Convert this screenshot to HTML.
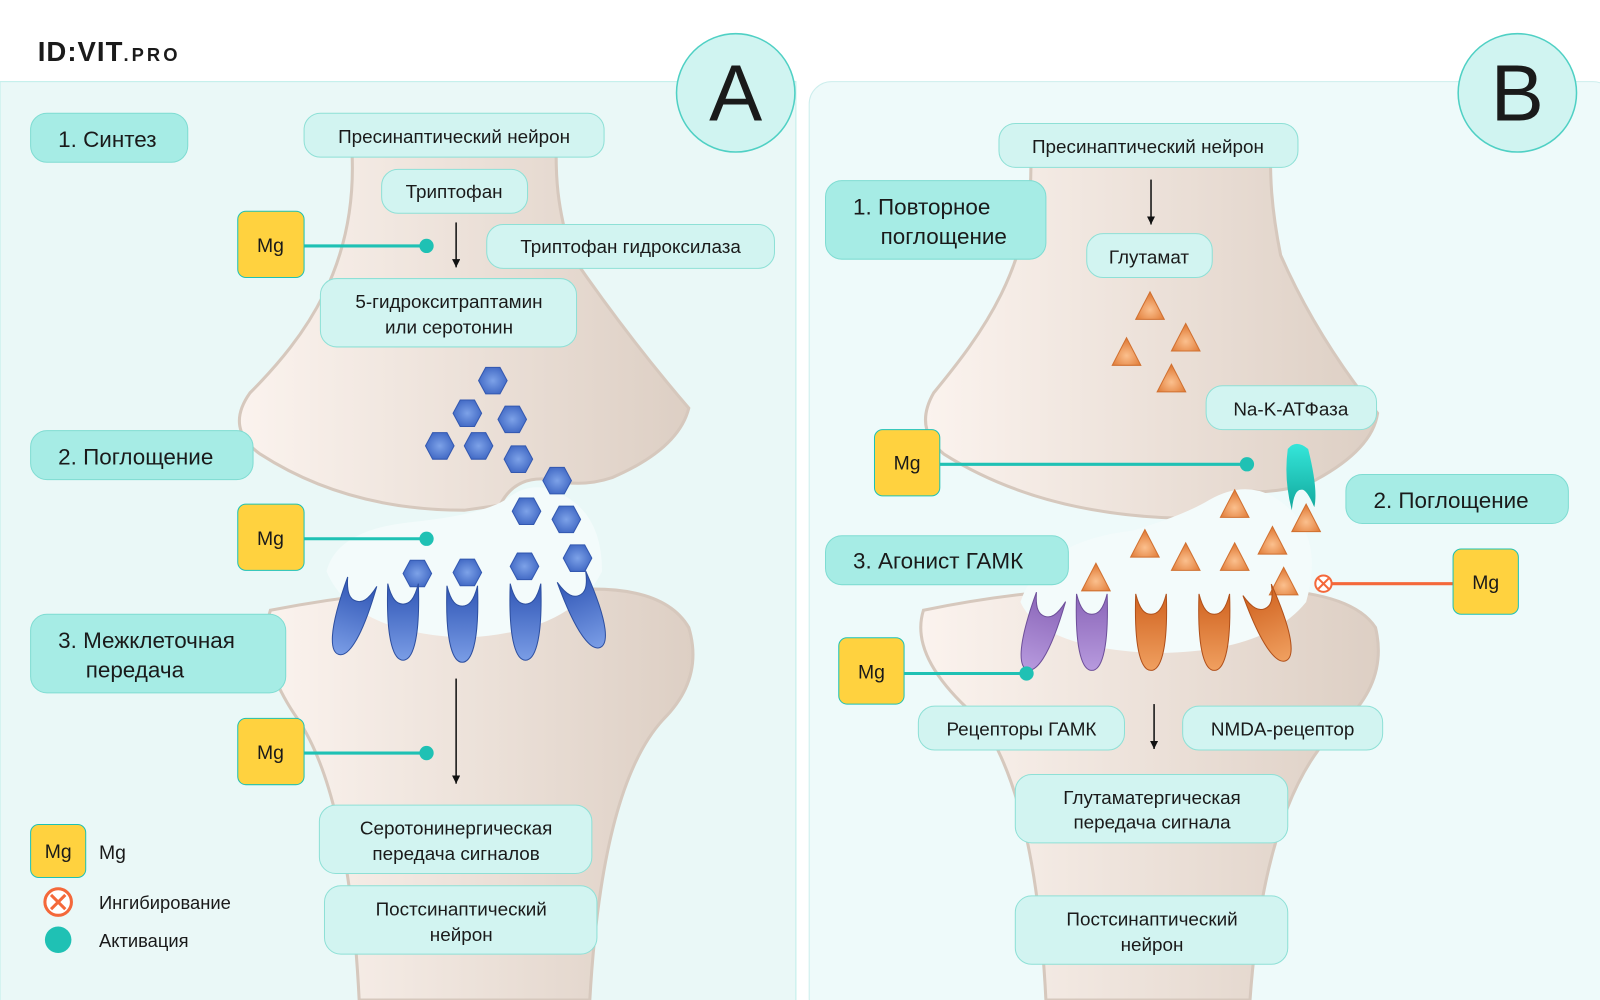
<!DOCTYPE html>
<html><head><meta charset="utf-8"><style>
html,body{margin:0;padding:0;background:#fff;}
svg{display:block;}
text{font-family:"Liberation Sans","DejaVu Sans",sans-serif;fill:#1a1a1a;}
</style></head><body>
<svg width="1600" height="1000" viewBox="0 0 1568 980" preserveAspectRatio="none" xmlns="http://www.w3.org/2000/svg">
<defs>
<linearGradient id="neu" x1="0" y1="0" x2="1" y2="0"><stop offset="0" stop-color="#fbf3ee"/><stop offset="1" stop-color="#ddcfc4"/></linearGradient>
<radialGradient id="hex" cx="0.5" cy="0.5" r="0.6"><stop offset="0" stop-color="#7da2e8"/><stop offset="1" stop-color="#3a62c0"/></radialGradient>
<radialGradient id="tri" cx="0.5" cy="0.65" r="0.6"><stop offset="0" stop-color="#fbc08e"/><stop offset="1" stop-color="#e07a35"/></radialGradient>
<linearGradient id="blu" x1="0" y1="0" x2="0" y2="1"><stop offset="0" stop-color="#2f55b5"/><stop offset="1" stop-color="#7a9de6"/></linearGradient>
<linearGradient id="pur" x1="0" y1="0" x2="0" y2="1"><stop offset="0" stop-color="#8a65b8"/><stop offset="1" stop-color="#b79ade"/></linearGradient>
<linearGradient id="ora" x1="0" y1="0" x2="0" y2="1"><stop offset="0" stop-color="#d0621f"/><stop offset="1" stop-color="#f0a060"/></linearGradient>
<linearGradient id="tea" x1="0" y1="0" x2="0" y2="1"><stop offset="0" stop-color="#35e6da"/><stop offset="1" stop-color="#12a89c"/></linearGradient>
<marker id="ar" viewBox="0 0 10 10" refX="10" refY="5" markerWidth="8" markerHeight="8" orient="auto" markerUnits="userSpaceOnUse"><path d="M0,0 L10,5 L0,10 Z" fill="#111"/></marker>
<path id="rec" d="M-15,0 C-17,60 -8,75 0,75 C8,75 17,60 15,0 C11,16 6,20 0,20 C-6,20 -11,16 -15,0 Z"/>
<polygon id="hx" points="-14,0 -7,-13 7,-13 14,0 7,13 -7,13"/>
<polygon id="tr" points="0,-14 14,13 -14,13"/>
</defs>

<rect x="0" y="80" width="780" height="910" fill="#eaf8f7" stroke="#bfeeea"/>
<rect x="793" y="80" width="790" height="920" rx="22" fill="#eefafa" stroke="#cdeeed"/>

<text x="37" y="60" font-size="27" font-weight="bold" letter-spacing="1">ID:VIT<tspan font-size="18" letter-spacing="3">.PRO</tspan></text>

<!-- LEFT NEURONS -->
<path d="M265,598 Q420,568 560,578 Q650,572 675,615 Q690,665 650,705 Q590,770 578,980 L352,980 Q342,780 292,705 Q250,645 265,598 Z" fill="url(#neu)" stroke="#d6c8bd" stroke-width="3"/>
<path d="M345,150 C350,260 300,330 245,385 Q220,420 255,445 Q340,500 455,500 L490,495 Q505,465 540,470 Q570,478 600,468 Q665,440 675,400 Q615,330 560,250 C545,200 545,170 545,150 Z" fill="url(#neu)" stroke="#d6c8bd" stroke-width="3"/>
<path d="M320,560 Q330,520 400,512 Q470,505 495,490 Q520,470 545,482 Q590,500 590,560 Q560,620 455,625 Q345,620 320,560 Z" fill="#f3fbfb"/>

<g fill="url(#hex)" stroke="#3358b0" stroke-width="1">
<use href="#hx" x="483" y="373"/><use href="#hx" x="458" y="405"/><use href="#hx" x="502" y="411"/>
<use href="#hx" x="431" y="437"/><use href="#hx" x="469" y="437"/><use href="#hx" x="508" y="450"/>
<use href="#hx" x="546" y="471"/><use href="#hx" x="516" y="501"/><use href="#hx" x="555" y="509"/>
<use href="#hx" x="409" y="562"/><use href="#hx" x="458" y="561"/><use href="#hx" x="514" y="555"/><use href="#hx" x="566" y="547"/>
</g>
<g fill="url(#blu)" stroke="#2d4fa0" stroke-width="1">
<use href="#rec" transform="translate(355,570) rotate(18)"/>
<use href="#rec" transform="translate(395,572)"/>
<use href="#rec" transform="translate(453,574)"/>
<use href="#rec" transform="translate(515,572)"/>
<use href="#rec" transform="translate(560,565) rotate(-22)"/>
</g>

<!-- RIGHT NEURONS -->
<path d="M905,598 Q1050,568 1190,578 Q1320,572 1348,615 Q1360,665 1320,705 Q1240,770 1225,980 L1025,980 Q1015,780 960,705 Q890,645 905,598 Z" fill="url(#neu)" stroke="#d6c8bd" stroke-width="3"/>
<path d="M1010,150 C1015,260 960,330 915,385 Q895,420 925,445 Q1020,505 1160,508 L1190,500 Q1210,478 1235,482 Q1270,480 1290,470 Q1345,440 1350,405 Q1290,330 1255,250 C1245,200 1245,170 1245,150 Z" fill="url(#neu)" stroke="#d6c8bd" stroke-width="3"/>
<path d="M1000,590 Q1020,530 1110,520 Q1160,505 1185,490 Q1220,470 1250,488 Q1300,520 1280,590 Q1240,640 1130,640 Q1020,635 1000,590 Z" fill="#f3fbfb"/>
<path d="M1262,440 Q1270,430 1282,440 Q1292,480 1288,497 Q1280,478 1275,480 Q1268,480 1266,500 Q1258,470 1262,440 Z" fill="url(#tea)"/>
<g fill="url(#tri)" stroke="#d07030" stroke-width="1">
<use href="#tr" x="1127" y="300"/><use href="#tr" x="1162" y="331"/><use href="#tr" x="1104" y="345"/><use href="#tr" x="1148" y="371"/>
<use href="#tr" x="1210" y="494"/><use href="#tr" x="1280" y="508"/><use href="#tr" x="1122" y="533"/><use href="#tr" x="1162" y="546"/>
<use href="#tr" x="1210" y="546"/><use href="#tr" x="1247" y="530"/><use href="#tr" x="1074" y="566"/><use href="#tr" x="1258" y="570"/>
</g>
<g stroke-width="1">
<use href="#rec" transform="translate(1030,585) rotate(18)" fill="url(#pur)" stroke="#6e4f9a"/>
<use href="#rec" transform="translate(1070,582)" fill="url(#pur)" stroke="#6e4f9a"/>
<use href="#rec" transform="translate(1128,582)" fill="url(#ora)" stroke="#b0501a"/>
<use href="#rec" transform="translate(1190,582)" fill="url(#ora)" stroke="#b0501a"/>
<use href="#rec" transform="translate(1232,578) rotate(-22)" fill="url(#ora)" stroke="#b0501a"/>
</g>

<circle cx="721" cy="91" r="58" fill="#d0f4f1" stroke="#4fd0c4" stroke-width="1.5"/>
<text x="721" y="118" font-size="78" text-anchor="middle">A</text>
<circle cx="1487" cy="91" r="58" fill="#d0f4f1" stroke="#4fd0c4" stroke-width="1.5"/>
<text x="1487" y="118" font-size="78" text-anchor="middle">B</text>

<g stroke="#1fc1b4" stroke-width="3" fill="#1fc1b4">
<line x1="298" y1="241" x2="418" y2="241"/><circle cx="418" cy="241" r="7" stroke="none"/>
<line x1="298" y1="528" x2="418" y2="528"/><circle cx="418" cy="528" r="7" stroke="none"/>
<line x1="298" y1="738" x2="418" y2="738"/><circle cx="418" cy="738" r="7" stroke="none"/>
<line x1="921" y1="455" x2="1222" y2="455"/><circle cx="1222" cy="455" r="7" stroke="none"/>
<line x1="886" y1="660" x2="1006" y2="660"/><circle cx="1006" cy="660" r="7" stroke="none"/>
</g>
<line x1="1302" y1="572" x2="1424" y2="572" stroke="#f4683a" stroke-width="3"/>
<circle cx="1297" cy="572" r="8" fill="#fff" stroke="#f4683a" stroke-width="2"/>
<path d="M1292,567 L1302,577 M1302,567 L1292,577" stroke="#f4683a" stroke-width="2"/>

<g stroke="#111" stroke-width="1.5">
<line x1="447" y1="218" x2="447" y2="262" marker-end="url(#ar)"/>
<line x1="447" y1="665" x2="447" y2="768" marker-end="url(#ar)"/>
<line x1="1128" y1="176" x2="1128" y2="220" marker-end="url(#ar)"/>
<line x1="1131" y1="690" x2="1131" y2="734" marker-end="url(#ar)"/>
</g>

<g fill="#a6ece5" stroke="#7fdcd2" stroke-width="1">
<rect x="30" y="111" width="154" height="48" rx="16"/>
<rect x="30" y="422" width="218" height="48" rx="16"/>
<rect x="30" y="602" width="250" height="77" rx="16"/>
<rect x="809" y="177" width="216" height="77" rx="16"/>
<rect x="809" y="525" width="238" height="48" rx="16"/>
<rect x="1319" y="465" width="218" height="48" rx="16"/>
</g>
<g font-size="22">
<text x="57" y="144">1. Синтез</text>
<text x="57" y="455">2. Поглощение</text>
<text x="57" y="635">3. Межклеточная</text><text x="84" y="664">передача</text>
<text x="836" y="210">1. Повторное</text><text x="863" y="239">поглощение</text>
<text x="836" y="557">3. Агонист ГАМК</text>
<text x="1346" y="498">2. Поглощение</text>
</g>

<g fill="#d2f4f1" stroke="#8ee0d6" stroke-width="1">
<rect x="298" y="111" width="294" height="43" rx="16"/>
<rect x="374" y="166" width="143" height="43" rx="16"/>
<rect x="477" y="220" width="282" height="43" rx="16"/>
<rect x="314" y="273" width="251" height="67" rx="16"/>
<rect x="313" y="789" width="267" height="67" rx="16"/>
<rect x="318" y="868" width="267" height="67" rx="16"/>
<rect x="979" y="121" width="293" height="43" rx="16"/>
<rect x="1065" y="229" width="123" height="43" rx="16"/>
<rect x="1182" y="378" width="167" height="43" rx="16"/>
<rect x="900" y="692" width="202" height="43" rx="16"/>
<rect x="1159" y="692" width="196" height="43" rx="16"/>
<rect x="995" y="759" width="267" height="67" rx="16"/>
<rect x="995" y="878" width="267" height="67" rx="16"/>
</g>
<g font-size="18.5" text-anchor="middle">
<text x="445" y="140">Пресинаптический нейрон</text>
<text x="445" y="194">Триптофан</text>
<text x="618" y="248">Триптофан гидроксилаза</text>
<text x="440" y="302">5-гидрокситраптамин</text><text x="440" y="327">или серотонин</text>
<text x="447" y="818">Серотонинергическая</text><text x="447" y="843">передача сигналов</text>
<text x="452" y="897">Постсинаптический</text><text x="452" y="922">нейрон</text>
<text x="1125" y="150">Пресинаптический нейрон</text>
<text x="1126" y="258">Глутамат</text>
<text x="1265" y="407">Na-K-АТФаза</text>
<text x="1001" y="721">Рецепторы ГАМК</text>
<text x="1257" y="721">NMDA-рецептор</text>
<text x="1129" y="788">Глутаматергическая</text><text x="1129" y="812">передача сигнала</text>
<text x="1129" y="907">Постсинаптический</text><text x="1129" y="932">нейрон</text>
</g>

<g fill="#ffd23f" stroke="#1fc1b4" stroke-width="1">
<rect x="233" y="207" width="65" height="65" rx="8"/>
<rect x="233" y="494" width="65" height="65" rx="8"/>
<rect x="233" y="704" width="65" height="65" rx="8"/>
<rect x="857" y="421" width="64" height="65" rx="8"/>
<rect x="822" y="625" width="64" height="65" rx="8"/>
<rect x="1424" y="538" width="64" height="64" rx="8"/>
<rect x="30" y="808" width="54" height="52" rx="8"/>
</g>
<g font-size="19" text-anchor="middle">
<text x="265" y="247">Mg</text><text x="265" y="534">Mg</text><text x="265" y="744">Mg</text>
<text x="889" y="460">Mg</text><text x="854" y="665">Mg</text><text x="1456" y="577">Mg</text>
<text x="57" y="841">Mg</text>
</g>

<text x="97" y="842" font-size="19">Mg</text>
<circle cx="57" cy="884" r="13" fill="#fff" stroke="#f4683a" stroke-width="3"/>
<path d="M50,877 L64,891 M64,877 L50,891" stroke="#f4683a" stroke-width="3"/>
<text x="97" y="891" font-size="18">Ингибирование</text>
<circle cx="57" cy="921" r="13" fill="#1fc1b4"/>
<text x="97" y="928" font-size="18">Активация</text>
</svg>
</body></html>
